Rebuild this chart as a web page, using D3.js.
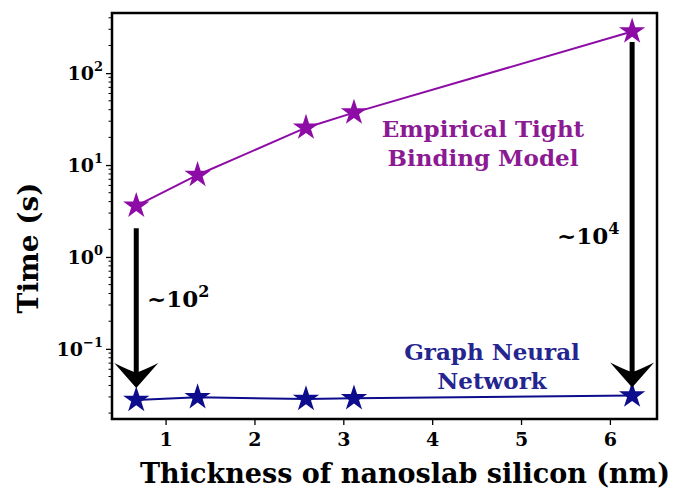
<!DOCTYPE html>
<html lang="en">
<meta charset="utf-8">
<style>
body { margin: 0; background: #fff; }
text { font-family: "DejaVu Serif", serif; font-weight: bold; }
.line { fill: none; stroke-width: 2px; }
</style>
<body>
<script src="https://d3js.org/d3.v7.min.js"></script>
<script>

// thickness (nm) and run time (s)
var thickness = [0.67, 1.36, 2.58, 3.12, 6.25];
var etbTime = [3.6, 7.8, 25.5, 37.2, 284];
var gnnTime = [0.0278, 0.0298, 0.0285, 0.029, 0.031];
var xTicks = [1, 2, 3, 4, 5, 6];
var yTicks = [-1, 0, 1, 2]; // exponents
var speedups = [
  {x: 0.67, from: 2.05, to: 0.0376, label: "~10", sup: "2"},
  {x: 6.25, from: 218, to: 0.0381, label: "~10", sup: "4"}
];

var width = 673, height = 491;
var pl = 112, pr = 657, pt = 13, pb = 419;

var purple = "#8e0ca6", blue = "#0c0c8c";

var svg = d3.select("body").append("svg")
    .attr("width", width)
    .attr("height", height);

var x = d3.scaleLinear().domain([0.397, 6.53]).range([pl, pr]);
var y = d3.scaleLog().domain([0.01726, 451]).range([pb, pt]);

// x axis
var xAxis = svg.append("g")
    .attr("transform", "translate(0," + pb + ")")
    .call(d3.axisBottom(x).tickValues(xTicks).tickFormat(d3.format("d")).tickSize(6).tickPadding(8));
xAxis.select(".domain").remove();
xAxis.selectAll("line").attr("stroke-width", 1.3);
xAxis.selectAll("text").attr("font-size", 19).attr("fill", "#000")
    .style("font-family", "DejaVu Serif").style("font-weight", "bold");

// y axis - minor ticks
var minor = [];
for (var e = -2; e <= 2; e++) {
  for (var m = 2; m <= 9; m++) {
    var v = m * Math.pow(10, e);
    if (v >= y.domain()[0] && v <= y.domain()[1]) minor.push(v);
  }
}
svg.append("g").selectAll("line").data(minor).join("line")
    .attr("x1", pl).attr("x2", pl - 3.5)
    .attr("y1", function(d) { return y(d); })
    .attr("y2", function(d) { return y(d); })
    .attr("stroke", "#000").attr("stroke-width", 1);

var yAxis = svg.append("g")
    .attr("transform", "translate(" + pl + ",0)")
    .call(d3.axisLeft(y).tickValues(yTicks.map(function(d) { return Math.pow(10, d); }))
      .tickFormat("").tickSize(6));
yAxis.select(".domain").remove();
yAxis.selectAll("line").attr("stroke-width", 1.3);

svg.append("g").selectAll("text").data(yTicks).join("text")
    .attr("x", pl - 9)
    .attr("y", function(d) { return y(Math.pow(10, d)) + 7; })
    .attr("text-anchor", "end")
    .attr("font-size", 19)
    .each(function(d) {
      var t = d3.select(this);
      t.append("tspan").text("10");
      t.append("tspan").attr("dy", -9).attr("font-size", 13).text(d < 0 ? "\u2212" + (-d) : d);
    });

// frame
svg.append("rect")
    .attr("x", pl).attr("y", pt)
    .attr("width", pr - pl).attr("height", pb - pt)
    .attr("fill", "none").attr("stroke", "#000").attr("stroke-width", 2.5);

// series
var star = d3.symbol().type(d3.symbolStar).size(215);

function series(vals, color) {
  var pts = thickness.map(function(t, i) { return [t, vals[i]]; });
  svg.append("path")
      .datum(pts)
      .attr("class", "line")
      .attr("stroke", color)
      .attr("d", d3.line().x(function(d) { return x(d[0]); }).y(function(d) { return y(d[1]); }));
  svg.append("g").selectAll("path").data(pts).join("path")
      .attr("d", star)
      .attr("fill", color)
      .attr("transform", function(d) { return "translate(" + x(d[0]) + "," + y(d[1]) + ")"; });
}
series(etbTime, purple);
series(gnnTime, blue);

// speed-up arrows
speedups.forEach(function(a) {
  var ax = x(a.x), y0 = y(a.from), y1 = y(a.to);
  svg.append("line")
      .attr("x1", ax).attr("x2", ax)
      .attr("y1", y0).attr("y2", y1 - 12)
      .attr("stroke", "#000").attr("stroke-width", 5);
  svg.append("path")
      .attr("d", "M0,0 L-22,-25 Q-10,-19 -2,-16 L2,-16 Q10,-19 22,-25 Z")
      .attr("fill", "#000")
      .attr("transform", "translate(" + ax + "," + y1 + ")");
});

function supText(px, py, a) {
  var t = svg.append("text").attr("x", px).attr("y", py).attr("font-size", 23).attr("fill", "#000");
  t.append("tspan").text(a.label);
  t.append("tspan").attr("dy", -10).attr("font-size", 16).text(a.sup);
}
supText(147, 307, speedups[0]);
supText(557, 244, speedups[1]);

// labels
function twoLines(cx, y1, lines, color) {
  svg.append("g").selectAll("text").data(lines).join("text")
      .attr("x", cx)
      .attr("y", function(d, i) { return y1 + i * 29; })
      .attr("text-anchor", "middle")
      .attr("font-size", 23)
      .attr("fill", color)
      .text(function(d) { return d; });
}
twoLines(483, 137, ["Empirical Tight", "Binding Model"], "#8b1a93");
twoLines(492, 360, ["Graph Neural", "Network"], "#25258f");

svg.append("text")
    .attr("x", 405).attr("y", 483)
    .attr("text-anchor", "middle")
    .attr("font-size", 27)
    .text("Thickness of nanoslab silicon (nm)");

svg.append("text")
    .attr("transform", "translate(38,248) rotate(-90)")
    .attr("text-anchor", "middle")
    .attr("font-size", 28)
    .text("Time (s)");

</script>
</body>
</html>
